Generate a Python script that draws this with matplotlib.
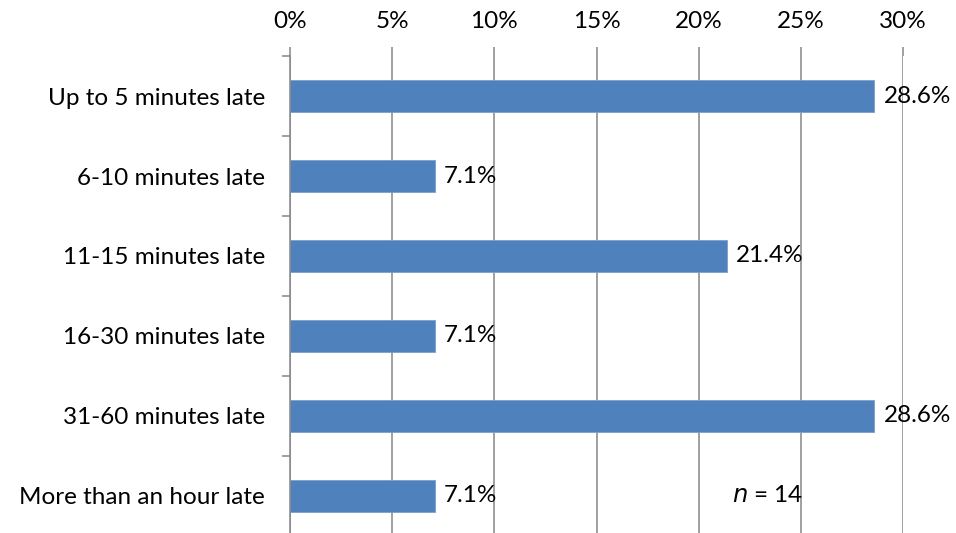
import matplotlib
matplotlib.use("Agg")
import matplotlib.pyplot as plt
import numpy as np
from matplotlib.ticker import FixedLocator, FuncFormatter

categories = [
    "Up to 5 minutes late",
    "6-10 minutes late",
    "11-15 minutes late",
    "16-30 minutes late",
    "31-60 minutes late",
    "More than an hour late",
]
shares = [28.6, 7.1, 21.4, 7.1, 28.6, 7.1]
x_ticks = [0, 5, 10, 15, 20, 25, 30]
sample_note = "14"

plt.rcParams["font.family"] = ["Lato", "DejaVu Sans"]
FS = 17.5
grid_color = "#868686"
bar_color = "#4F81BD"

fig = plt.figure(figsize=(9.56, 5.33), dpi=100)
ax = fig.add_axes([290 / 956, (533 - 536) / 533, 613 / 956, 480 / 533])

y = np.arange(len(categories))
ax.barh(y, shares, height=0.39, color=bar_color, edgecolor="#7BA0CD",
        linewidth=0.6, zorder=3)

ax.set_xlim(0, 30)
ax.set_ylim(len(categories) - 0.5, -0.5)

# value labels to the right of each bar
for yi, v in zip(y, shares):
    ax.annotate(f"{v:.1f}%", (v, yi), xytext=(6.5, 0), textcoords="offset points",
                va="center", ha="left", fontsize=FS, color="black", zorder=4)

ax.text(23.4, 5.0, "$n$ = " + sample_note, ha="center", va="center",
        fontsize=FS, color="black")

# percent axis on top
ax.xaxis.tick_top()
ax.xaxis.set_major_locator(FixedLocator(x_ticks))
ax.xaxis.set_major_formatter(FuncFormatter(lambda v, p: f"{v:.0f}%"))
ax.tick_params(axis="x", which="major", length=6.5, width=1.1, color=grid_color,
               labelsize=FS, pad=11)
ax.grid(axis="x", color=grid_color, linewidth=1.1, zorder=0)

# category labels, with tick marks between categories
ax.set_yticks(y)
ax.set_yticklabels(categories)
ax.yaxis.set_minor_locator(FixedLocator(np.arange(-0.5, len(categories), 1.0)))
ax.tick_params(axis="y", which="major", length=0, labelsize=FS, pad=18)
ax.tick_params(axis="y", which="minor", length=6, width=1.1, color=grid_color)

for side in ["top", "right", "bottom"]:
    ax.spines[side].set_visible(False)
ax.spines["left"].set_color(grid_color)
ax.spines["left"].set_linewidth(1.1)
ax.spines["left"].set_zorder(5)

fig.savefig("out.png", dpi=100)
